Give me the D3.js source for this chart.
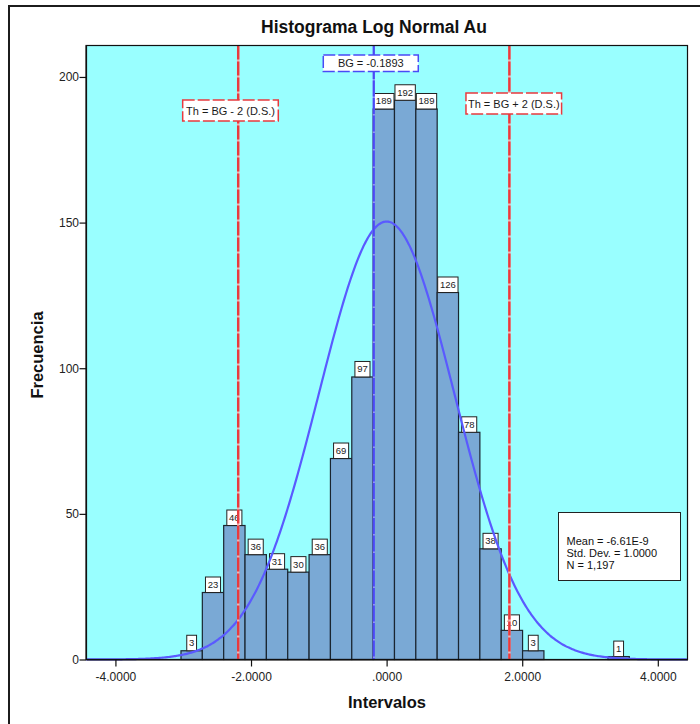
<!DOCTYPE html>
<html>
<head>
<meta charset="utf-8">
<script src="https://cdn.jsdelivr.net/npm/d3@7"></script>
<style>
  html, body { margin: 0; padding: 0; background: #fff; }
  svg { display: block; }
  text { font-family: "Liberation Sans", Arial, sans-serif; }
</style>
</head>
<body>
<svg id="chart" width="700" height="724"></svg>
<script>
// Histogram counts per interval (standardized log Au)
const counts = [3, 23, 46, 36, 31, 30, 36, 69, 97, 189, 192, 189, 126, 78, 38, 10, 3, 0, 0, 0, 1];
const binStart = -3.033;
const binWidth = 0.3149;

// Summary statistics
const statMean = -6.61e-9;
const statSD = 1.0;
const statN = 1197;
const statLines = ["Mean = -6.61E-9", "Std. Dev. = 1.0000", "N = 1,197"];

// Reference lines: background and thresholds
const bgValue = -0.1893;
const refLines = [
  { value: bgValue - 2, label: "Th = BG - 2 (D.S.)", kind: "th", labelY: 100 },
  { value: bgValue, label: "BG = -0.1893", kind: "bg", labelY: 55 },
  { value: bgValue + 2, label: "Th = BG + 2 (D.S.)", kind: "th", labelY: 93 }
];

// Axis ticks
const xTicks = [-4, -2, 0, 2, 4];
const xTickLabels = ["-4.0000", "-2.0000", ".0000", "2.0000", "4.0000"];
const yTicks = [0, 50, 100, 150, 200];

const plot = { left: 86, right: 687.5, top: 45.5, bottom: 659.5 };

const svg = d3.select("#chart");

const x = d3.scaleLinear().domain([-4.434, 4.438]).range([plot.left, plot.right]);
const y = d3.scaleLinear().domain([0, 210.8]).range([plot.bottom, plot.top]);

// Outer frame
svg.append("rect")
  .attr("x", 9).attr("y", 6).attr("width", 720).attr("height", 740)
  .attr("fill", "none").attr("stroke", "#1c1c1c").attr("stroke-width", 2);

// Plot background
svg.append("rect")
  .attr("x", plot.left).attr("y", plot.top)
  .attr("width", plot.right - plot.left).attr("height", plot.bottom - plot.top)
  .attr("fill", "#99ffff");

// Bars
const bins = counts.map((c, i) => ({ x0: binStart + i * binWidth, x1: binStart + (i + 1) * binWidth, count: c }))
  .filter(d => d.count > 0);

svg.append("g").selectAll("rect")
  .data(bins).join("rect")
  .attr("x", d => x(d.x0))
  .attr("y", d => y(d.count))
  .attr("width", d => x(d.x1) - x(d.x0))
  .attr("height", d => y(0) - y(d.count))
  .attr("fill", "#7aa9d5")
  .attr("stroke", "#1a2530")
  .attr("stroke-width", 1.2);

// Count labels above bars
const lab = svg.append("g").selectAll("g").data(bins).join("g");
lab.each(function (d) {
  const g = d3.select(this);
  const cx = (x(d.x0) + x(d.x1)) / 2;
  const top = y(d.count);
  const t = g.append("text")
    .attr("x", cx).attr("y", top - 4.5)
    .attr("text-anchor", "middle")
    .attr("font-size", 9.5)
    .attr("fill", "#222")
    .text(d.count);
  const w = t.node().getComputedTextLength() + 4.5;
  g.insert("rect", "text")
    .attr("x", cx - w / 2).attr("y", top - 15.5)
    .attr("width", w).attr("height", 15.5)
    .attr("fill", "#fff").attr("stroke", "#222").attr("stroke-width", 1);
});

// Normal curve scaled to counts
const pdf = v => Math.exp(-0.5 * Math.pow((v - statMean) / statSD, 2)) / (statSD * Math.sqrt(2 * Math.PI));
const curvePts = d3.range(0, 401).map(i => {
  const v = x.domain()[0] + (x.domain()[1] - x.domain()[0]) * i / 400;
  return [v, statN * binWidth * pdf(v)];
});
svg.append("path")
  .datum(curvePts)
  .attr("d", d3.line().x(d => x(d[0])).y(d => y(d[1])).curve(d3.curveBasis))
  .attr("fill", "none")
  .attr("stroke", "#5a5aff")
  .attr("stroke-width", 2.2);

// Reference lines
const lineColor = { th: "#e83a3e", bg: "#4a4af5" };
const gapColor = { th: "#f6b0b0", bg: "#8f8fff" };
const refG = svg.append("g");
refLines.forEach(r => {
  const w = r.kind === "th" ? 2.4 : 2.1;
  refG.append("line")
    .attr("x1", x(r.value)).attr("x2", x(r.value))
    .attr("y1", plot.top).attr("y2", plot.bottom)
    .attr("stroke", gapColor[r.kind]).attr("stroke-width", w);
  refG.append("line")
    .attr("x1", x(r.value)).attr("x2", x(r.value))
    .attr("y1", plot.top).attr("y2", plot.bottom)
    .attr("stroke", lineColor[r.kind]).attr("stroke-width", w)
    .attr("stroke-dasharray", r.kind === "th" ? "14,2" : "16,1.5");
});

// Reference line labels
refLines.forEach(r => {
  const cx = x(r.value) + (r.kind === "th" ? (r.value < 0 ? -7.7 : 4.4) : -3);
  const t = refG.append("text")
    .attr("x", cx).attr("y", r.labelY + (r.kind === "th" ? 15 : 12))
    .attr("text-anchor", "middle")
    .attr("font-size", 11)
    .attr("fill", "#1a1a1a")
    .text(r.label);
  const w = r.kind === "th" ? 95.6 : 95;
  refG.insert("rect", function () { return t.node(); })
    .attr("x", cx - w / 2).attr("y", r.labelY)
    .attr("width", w).attr("height", r.kind === "th" ? 21 : 16.5)
    .attr("fill", "#fff")
    .attr("stroke", lineColor[r.kind])
    .attr("stroke-width", 1.5)
    .attr("stroke-dasharray", "12,3");
});

// Plot border
svg.append("rect")
  .attr("x", plot.left).attr("y", plot.top)
  .attr("width", plot.right - plot.left).attr("height", plot.bottom - plot.top)
  .attr("fill", "none").attr("stroke", "#111").attr("stroke-width", 1.2);

// Axes
const xAxis = d3.axisBottom(x).tickValues(xTicks)
  .tickFormat((d, i) => xTickLabels[i]).tickSize(7).tickSizeOuter(0);
const gx = svg.append("g").attr("transform", `translate(0,${plot.bottom})`).call(xAxis);
gx.select(".domain").attr("stroke", "#111").attr("stroke-width", 1.2);
gx.selectAll(".tick line").attr("stroke", "#111").attr("stroke-width", 1.2);
gx.selectAll(".tick text").attr("font-size", 12).attr("fill", "#222")
  .attr("font-family", "Liberation Sans, Arial, sans-serif").attr("dy", "0.95em");

const yAxis = d3.axisLeft(y).tickValues(yTicks).tickSize(6.5).tickSizeOuter(0);
const gy = svg.append("g").attr("transform", `translate(${plot.left},0)`).call(yAxis);
gy.select(".domain").attr("stroke", "#111").attr("stroke-width", 1.2);
gy.selectAll(".tick line").attr("stroke", "#111").attr("stroke-width", 1.2);
gy.selectAll(".tick text").attr("font-size", 12).attr("fill", "#222")
  .attr("font-family", "Liberation Sans, Arial, sans-serif").attr("x", -7);

// Statistics box
const sb = svg.append("g");
sb.append("rect")
  .attr("x", 558.5).attr("y", 512.5).attr("width", 122).attr("height", 68)
  .attr("fill", "#fff").attr("stroke", "#222").attr("stroke-width", 1);
statLines.forEach((s, i) => {
  sb.append("text")
    .attr("x", 566.5).attr("y", 545 + i * 12)
    .attr("font-size", 11)
    .attr("fill", "#111")
    .text(s);
});

// Titles
svg.append("text")
  .attr("x", 374).attr("y", 33)
  .attr("text-anchor", "middle")
  .attr("font-size", 17.5).attr("font-weight", "bold").attr("fill", "#111")
  .text("Histograma Log Normal Au");

svg.append("text")
  .attr("x", 387).attr("y", 708)
  .attr("text-anchor", "middle")
  .attr("font-size", 16.5).attr("font-weight", "bold").attr("fill", "#111")
  .text("Intervalos");

svg.append("text")
  .attr("transform", "translate(43,355) rotate(-90)")
  .attr("text-anchor", "middle")
  .attr("font-size", 16.5).attr("font-weight", "bold").attr("fill", "#111")
  .text("Frecuencia");
</script>
</body>
</html>
